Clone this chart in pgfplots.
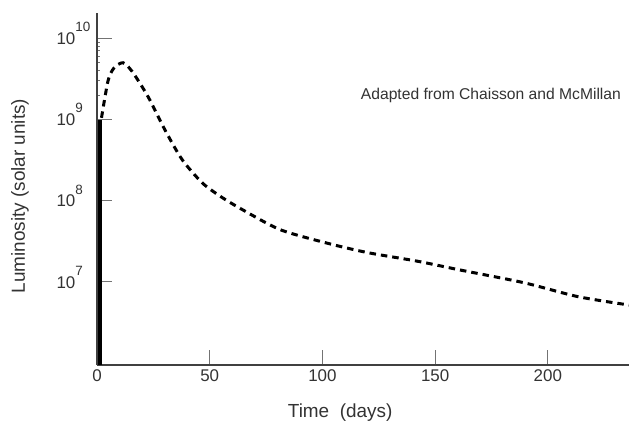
\documentclass[border=0pt]{standalone}
\usepackage{pgfplots}
\pgfplotsset{compat=1.18}
\usepackage{fontspec}
\setmainfont{Liberation Sans}
\newcommand\ex[1]{10\raisebox{12.8bp}{\fontsize{13.5}{14}\selectfont #1}}
\begin{document}
\begin{tikzpicture}
\path[use as bounding box] (-97bp,-68bp) rectangle (532bp,365bp);
\begin{axis}[
  at={(0,0)}, anchor=south west,
  width=532bp, height=352bp, scale only axis,
  ymode=log,
  xmin=0, xmax=236,
  ymin=9.5e5, ymax=2.05e10,
  axis lines=left,
  axis line style={-, draw=black!75, line width=1.3bp},
  tick align=inside,
  major tick length=15bp,
  tick style={draw=black!55, line width=1bp},
  minor tick num=0,
  xtick={0,50,100,150,200},
  ytick={1e7,1e8,1e9,1e10},
  yticklabels={\ex{7},\ex{8},\ex{9},\ex{10}},
  /pgf/number format/assume math mode=true,
  ticklabel style={font=\fontsize{17}{19}\selectfont, text=black!80},
  yticklabel style={anchor=base west, xshift=-44bp, yshift=-6.2bp},
  xticklabel style={yshift=-1bp},
  xlabel={Time\ \ (days)},
  ylabel={Luminosity (solar units)},
  label style={font=\fontsize{19}{21}\selectfont, text=black!80},
  xlabel style={at={(axis description cs:0.457,0)}, anchor=center, yshift=-48bp},
  ylabel style={at={(axis description cs:-0.1447,0.48)}, anchor=center, rotate=0},
  clip=true,
]
\addplot[black, line width=4.5bp] coordinates {(1.3,9.5e5) (1.3,1.0e9)};
\addplot[black, line width=3bp, dash pattern=on 6.5bp off 5bp, smooth, tension=0.45] coordinates {
(2.0,1.05e9) (4.9,3.0e9) (7.5,4.3e9) (11.5,5.0e9) (15.6,3.9e9) (22.7,1.9e9)
(30.2,7.4e8) (37.8,3.2e8) (46.7,1.66e8) (55,1.12e8) (64.4,7.8e7) (81.3,4.4e7)
(102.2,3.0e7) (120,2.3e7) (142.2,1.8e7) (161.3,1.4e7) (189.3,9.8e6)
(213.3,6.6e6) (236,5.2e6)
};
\node[anchor=west, font=\fontsize{15.7}{17}\selectfont, text=black!80, inner sep=0pt] at (axis cs:117,2.0e9) {Adapted from Chaisson and McMillan};
\end{axis}
\end{tikzpicture}
\end{document}
